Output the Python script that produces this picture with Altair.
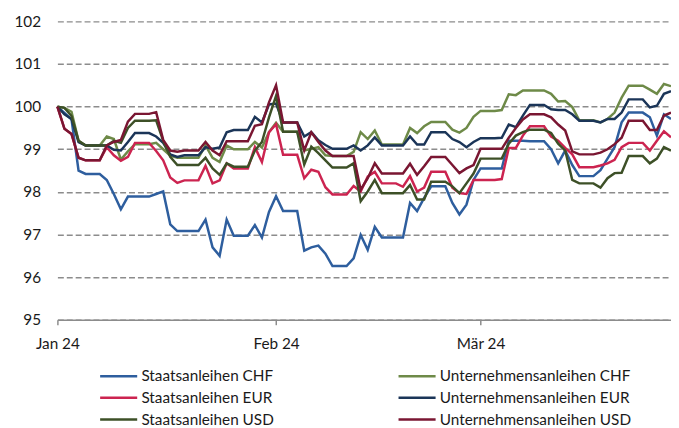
import altair as alt
import pandas as pd

# calendar days from 1 Jan 2024 (day 0) to 28 Mar 2024 (day 87)
days = list(range(88))
tick_days = [0, 31, 60]
tick_labels = ["Jan 24", "Feb 24", "Mär 24"]
y_ticks = [95, 96, 97, 98, 99, 100, 101, 102]

# drawing order (later series on top)
series_names = [
    "Staatsanleihen CHF", "Unternehmensanleihen CHF",
    "Staatsanleihen EUR", "Unternehmensanleihen EUR",
    "Staatsanleihen USD", "Unternehmensanleihen USD",
]
series_colors = ["#2E5E9E", "#6E8A48", "#CC2450", "#1B3558", "#3D5027", "#7A1632"]
# legend order (filled column by column, 3 rows)
legend_order = [0, 2, 4, 1, 3, 5]

staats_chf = [
    100.0, 99.85, 99.7, 98.5, 98.42, 98.42, 98.42, 98.28, 97.95, 97.59,
    97.89, 97.89, 97.89, 97.89, 97.95, 98.01, 97.24, 97.08, 97.08, 97.08,
    97.08, 97.35, 96.7, 96.5, 97.35, 96.97, 96.97, 96.97, 97.22, 96.93,
    97.53, 97.9, 97.55, 97.55, 97.55, 96.62, 96.7, 96.74, 96.55, 96.26,
    96.26, 96.26, 96.44, 96.99, 96.64, 97.18, 96.93, 96.93, 96.93, 96.93,
    97.74, 97.55, 97.86, 98.13, 98.13, 98.13, 97.74, 97.47, 97.7, 98.28,
    98.55, 98.55, 98.55, 98.55, 99.2, 99.2, 99.2, 99.19, 99.19, 99.19,
    99.0, 98.67, 98.97, 98.63, 98.37, 98.37, 98.37, 98.51, 98.78, 99.05,
    99.63, 99.86, 99.86, 99.86, 99.75, 99.32, 99.82, 99.71,
]
unternehmen_chf = [
    100.0, 99.97, 99.88, 99.2, 99.09, 99.09, 99.09, 99.3, 99.24, 98.76,
    98.95, 99.12, 99.12, 99.12, 99.15, 99.0, 98.85, 98.8, 98.8, 98.8,
    98.8, 99.09, 98.8, 98.7, 99.09, 99.0, 99.0, 99.0, 99.17, 99.04,
    99.4, 99.62, 99.41, 99.41, 99.41, 98.97, 99.01, 99.05, 98.86, 98.84,
    98.84, 98.84, 98.94, 99.4, 99.24, 99.44, 99.11, 99.11, 99.11, 99.11,
    99.5, 99.38, 99.54, 99.64, 99.64, 99.64, 99.46, 99.39, 99.5, 99.76,
    99.9, 99.9, 99.9, 99.92, 100.29, 100.27, 100.38, 100.38, 100.38, 100.38,
    100.3, 100.12, 100.13, 99.99, 99.68, 99.68, 99.68, 99.63, 99.71, 99.86,
    100.21, 100.49, 100.49, 100.49, 100.4, 100.3, 100.53, 100.48,
]
staats_eur = [
    100.0, 99.48, 99.36, 98.8, 98.74, 98.74, 98.74, 99.05, 98.86, 98.73,
    98.82, 99.15, 99.15, 99.15, 98.96, 98.74, 98.34, 98.21, 98.27, 98.27,
    98.27, 98.61, 98.2, 98.27, 98.67, 98.55, 98.55, 98.55, 99.05, 98.7,
    99.4, 99.59, 98.87, 98.87, 98.87, 98.32, 98.52, 98.47, 98.11, 97.94,
    97.94, 97.94, 98.14, 98.01, 98.36, 98.47, 98.2, 98.2, 98.2, 98.12,
    98.37, 98.01, 98.1, 98.47, 98.47, 98.47, 98.1, 97.97, 97.95, 98.28,
    98.28, 98.28, 98.28, 98.3, 99.03, 99.03, 99.32, 99.54, 99.54, 99.54,
    99.3, 99.2, 99.03, 98.88, 98.58, 98.58, 98.58, 98.62, 98.67, 98.75,
    99.05, 99.15, 99.15, 99.15, 98.97, 99.2, 99.42, 99.28,
]
unternehmen_eur = [
    100.0, 99.82, 99.71, 99.17, 99.09, 99.09, 99.09, 99.09, 98.99, 98.97,
    99.17, 99.38, 99.38, 99.38, 99.3, 99.15, 98.88, 98.82, 98.86, 98.86,
    98.86, 99.05, 99.01, 99.04, 99.4, 99.45, 99.45, 99.45, 99.76, 99.63,
    100.05, 100.07, 99.63, 99.63, 99.63, 99.3, 99.4, 99.21, 99.1, 99.01,
    99.01, 99.01, 99.09, 98.97, 99.09, 99.28, 99.09, 99.09, 99.09, 99.09,
    99.3, 99.11, 99.11, 99.4, 99.4, 99.4, 99.24, 99.17, 99.05, 99.17,
    99.26, 99.26, 99.26, 99.27, 99.58, 99.52, 99.79, 100.04, 100.04, 100.04,
    99.94, 99.92, 99.92, 99.82, 99.67, 99.67, 99.67, 99.63, 99.71, 99.71,
    99.86, 100.17, 100.17, 100.17, 99.98, 100.02, 100.3, 100.36,
]
staats_usd = [
    100.0, 99.97, 99.78, 99.2, 99.09, 99.09, 99.09, 99.09, 99.2, 99.15,
    99.5, 99.67, 99.67, 99.67, 99.68, 99.2, 98.82, 98.63, 98.63, 98.63,
    98.63, 98.8, 98.55, 98.4, 98.67, 98.59, 98.59, 98.59, 98.97, 99.17,
    99.75, 100.25, 99.41, 99.41, 99.41, 98.64, 99.06, 98.91, 98.74, 98.57,
    98.57, 98.57, 98.67, 97.78, 98.01, 98.28, 97.97, 97.97, 97.97, 97.97,
    98.16, 97.82, 97.82, 98.24, 98.24, 98.24, 98.13, 97.97, 98.2, 98.43,
    98.78, 98.78, 98.78, 98.78, 99.13, 99.32, 99.4, 99.46, 99.46, 99.46,
    99.38, 99.13, 98.97, 98.28, 98.2, 98.2, 98.2, 98.1, 98.32, 98.44,
    98.45, 98.84, 98.84, 98.84, 98.67, 98.78, 99.05, 98.97,
]
unternehmen_usd = [
    100.0, 99.48, 99.36, 98.8, 98.74, 98.74, 98.74, 99.09, 99.17, 99.22,
    99.65, 99.83, 99.83, 99.83, 99.87, 99.22, 98.97, 98.94, 98.97, 98.97,
    98.97, 99.17, 98.97, 98.86, 99.19, 99.19, 99.19, 99.19, 99.55, 99.59,
    100.1, 100.5, 99.63, 99.63, 99.63, 98.97, 99.4, 99.17, 98.97, 98.84,
    98.84, 98.84, 98.84, 98.05, 98.32, 98.67, 98.43, 98.43, 98.43, 98.43,
    98.66, 98.4, 98.6, 98.82, 98.82, 98.82, 98.63, 98.44, 98.55, 98.63,
    99.01, 99.01, 99.01, 99.01, 99.27, 99.5, 99.7, 99.82, 99.82, 99.82,
    99.75, 99.58, 99.44, 98.95, 98.88, 98.88, 98.88, 98.92, 99.0, 99.12,
    99.27, 99.67, 99.67, 99.67, 99.45, 99.45, 99.79, 99.86,
]

all_series = [staats_chf, unternehmen_chf, staats_eur, unternehmen_eur, staats_usd, unternehmen_usd]

rows = []
for name, vals in zip(series_names, all_series):
    for d, v in zip(days, vals):
        rows.append({"day": d, "value": v, "series": name})
df = pd.DataFrame(rows)

legend_domain = [series_names[i] for i in legend_order]
legend_range = [series_colors[i] for i in legend_order]

label_expr = " : ".join(
    f"datum.value == {d} ? '{t}'" for d, t in zip(tick_days[:-1], tick_labels[:-1])
) + f" : '{tick_labels[-1]}'"

FONT = "Lato"
FS = 15.5
TXT = "#1a1a1a"
GRID = "#8c8c8c"

chart = alt.Chart(df).mark_line(strokeWidth=2.5).encode(
    x=alt.X(
        "day:Q",
        scale=alt.Scale(domain=[days[0], days[-1]], nice=False, zero=False),
        axis=alt.Axis(
            values=tick_days, labelExpr=label_expr, title=None, grid=False,
            domain=True, domainColor=GRID, domainWidth=1.5,
            ticks=True, tickColor=GRID, tickSize=5, tickWidth=1.5,
            labelFont=FONT, labelFontSize=FS, labelColor=TXT, labelPadding=12,
            labelFlush=False, labelOverlap=False, zindex=1,
        ),
    ),
    y=alt.Y(
        "value:Q",
        scale=alt.Scale(domain=[95, 102], nice=False, zero=False),
        axis=alt.Axis(
            values=y_ticks, title=None, domain=False, ticks=False, grid=True,
            gridDash=[6, 3], gridColor=GRID, gridWidth=1.5, format="d",
            labelFont=FONT, labelFontSize=FS, labelColor=TXT, labelPadding=17,
        ),
    ),
    color=alt.Color(
        "series:N",
        sort=legend_domain,
        scale=alt.Scale(domain=legend_domain, range=legend_range),
        legend=alt.Legend(
            title=None, orient="none", legendX=53, legendY=350, columns=2,
            columnPadding=120, rowPadding=4, padding=0,
            symbolType="M-2.5,0H2.5", symbolSize=225, symbolStrokeWidth=2.5,
            symbolFillColor="transparent",
            labelFont=FONT, labelFontSize=FS, labelColor=TXT, labelLimit=400,
            labelOffset=14,
        ),
    ),
).properties(
    width=621,
    height=302,
    autosize=alt.AutoSizeParams(type="none"),
    padding={"left": 50, "top": 11, "right": 0, "bottom": 107},
).configure_view(stroke=None)

chart.save("out.html", embed_options={"renderer": "svg", "actions": False})
